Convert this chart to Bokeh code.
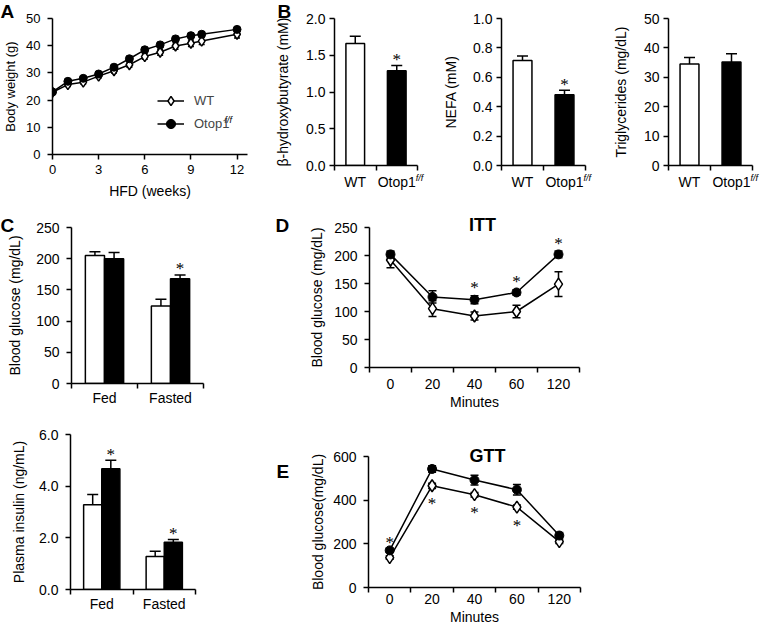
import numpy as np
from bokeh.plotting import figure
from bokeh.layouts import row, column
from bokeh.models import (ColumnDataSource, Whisker, TeeHead, FixedTicker, Range1d,
                          Label, LabelSet, Legend, LegendItem, NumeralTickFormatter)
from bokeh.embed import file_html
from bokeh.resources import INLINE

# ---------------- data ----------------
# A: body weight on HFD
weeks = [0, 1, 2, 3, 4, 5, 6, 7, 8, 9, 9.7, 12]
bw_wt = [22.9, 25.7, 26.6, 28.8, 30.8, 33.0, 36.0, 37.6, 39.9, 40.9, 41.7, 44.2]
bw_wt_err = [0.6, 0.7, 0.7, 0.7, 0.8, 0.9, 1.0, 1.1, 1.2, 1.2, 1.3, 1.4]
bw_ko = [23.0, 26.9, 28.0, 29.6, 32.1, 35.2, 38.5, 40.3, 42.5, 43.7, 44.2, 46.0]
bw_ko_err = [0.5, 0.6, 0.6, 0.7, 0.7, 0.8, 0.8, 0.9, 0.9, 0.9, 0.9, 0.8]
weeks_ticks = [0, 3, 6, 9, 12]
bw_ticks = [0, 10, 20, 30, 40, 50]

# B: serum metabolites
genotypes = ["WT", "Otop1"]
bhb = [1.66, 1.29]
bhb_err = [0.10, 0.07]
bhb_sig = [False, True]
bhb_ticks = [0.0, 0.5, 1.0, 1.5, 2.0]
nefa = [0.715, 0.482]
nefa_err = [0.03, 0.03]
nefa_sig = [False, True]
nefa_ticks = [0.0, 0.2, 0.4, 0.6, 0.8, 1.0]
tg = [34.5, 35.2]
tg_err = [2.2, 2.8]
tg_sig = [False, False]
tg_ticks = [0, 10, 20, 30, 40, 50]

# C: fed / fasted glucose and insulin
states = ["Fed", "Fasted"]
glc_wt = [205, 124]
glc_wt_err = [6, 11]
glc_ko = [200, 168]
glc_ko_err = [10, 6]
glc_sig = [False, True]
glc_ticks = [0, 50, 100, 150, 200, 250]
ins_wt = [3.28, 1.28]
ins_wt_err = [0.40, 0.20]
ins_ko = [4.67, 1.83]
ins_ko_err = [0.33, 0.11]
ins_sig = [True, True]
ins_ticks = [0.0, 2.0, 4.0, 6.0]

# D: ITT
minutes = ["0", "20", "40", "60", "120"]
itt_wt = [192, 105, 92, 100, 149]
itt_wt_err = [14, 14, 7, 11, 22]
itt_ko = [202, 126, 121, 134, 202]
itt_ko_err = [6, 11, 7, 5, 6]
itt_sig = [False, False, True, True, True]
itt_ticks = [0, 50, 100, 150, 200, 250]

# E: GTT
gtt_wt = [137, 466, 425, 368, 210]
gtt_wt_err = [8, 12, 10, 10, 8]
gtt_ko = [170, 543, 492, 448, 238]
gtt_ko_err = [10, 15, 22, 24, 14]
gtt_sig = ["above", "below", "below", "below", ""]
gtt_ticks = [0, 200, 400, 600]

FONT = "Liberation Sans"


def base_fig(w, h, xr, yr, bl, br, bt, bb, fs="14px", xs=3, ys=6):
    p = figure(width=w, height=h, x_range=Range1d(*xr), y_range=Range1d(*yr),
               output_backend="svg", toolbar_location=None,
               min_border_left=bl, min_border_right=br,
               min_border_top=bt, min_border_bottom=bb)
    p.frame_align = False
    p.outline_line_color = None
    p.xgrid.grid_line_color = None
    p.ygrid.grid_line_color = None
    for ax in (p.xaxis[0], p.yaxis[0]):
        ax.axis_line_width = 1.5
        ax.axis_line_color = "black"
        ax.major_tick_line_width = 1.5
        ax.major_tick_line_color = "black"
        ax.major_tick_out = 5
        ax.major_tick_in = 0
        ax.minor_tick_line_color = None
        ax.major_label_text_font = FONT
        ax.major_label_text_font_size = fs
        ax.major_label_text_color = "black"
        ax.axis_label_text_font = FONT
        ax.axis_label_text_font_size = fs
        ax.axis_label_text_font_style = "normal"
        ax.axis_label_text_color = "black"
    p.xaxis.major_label_standoff = xs
    p.yaxis.major_label_standoff = ys
    return p


def cat_xaxis(p, labels):
    n = len(labels)
    centers = [i + 0.5 for i in range(n)]
    ax = p.xaxis[0]
    ax.ticker = FixedTicker(ticks=centers, minor_ticks=list(range(n + 1)))
    ax.major_label_overrides = {c: l for c, l in zip(centers, labels)}
    ax.major_tick_line_color = None
    ax.minor_tick_line_color = "black"
    ax.minor_tick_line_width = 1.5
    ax.minor_tick_out = 5
    ax.minor_tick_in = 0


def side_text(p, txt, x, y, side="right", size="19px", style="bold",
              align="left", baseline="top"):
    p.add_layout(Label(x=x, y=y, x_units="canvas", y_units="canvas", text=txt,
                       text_font=FONT, text_font_size=size, text_font_style=style,
                       text_baseline=baseline, text_align=align, text_color="black"),
                 side)


def sup_tick(p, x, y, x_offset):
    p.add_layout(Label(x=x, y=y, x_units="data", y_units="canvas", x_offset=x_offset,
                       text="f/f", text_font=FONT, text_font_size="9px",
                       text_font_style="italic", text_baseline="top", text_align="left",
                       text_color="black"), "below")


def stars(p, xs, ys, offset):
    src = ColumnDataSource(dict(x=list(xs), y=list(ys), t=["*"] * len(xs)))
    p.add_layout(LabelSet(x="x", y="y", text="t", source=src, y_offset=offset,
                          text_font=FONT, text_font_size="17px", text_align="center",
                          text_baseline="middle", text_color="black"))


def bar_whisker(p, x, top, err):
    src = ColumnDataSource(dict(x=list(x), lo=list(top),
                                hi=[t + e for t, e in zip(top, err)]))
    p.add_layout(Whisker(source=src, base="x", lower="lo", upper="hi",
                         line_width=1.5, line_color="black", lower_head=None,
                         upper_head=TeeHead(size=11, line_width=1.5, line_color="black"),
                         level="overlay"))


def pt_whisker(p, x, y, err, size=8):
    src = ColumnDataSource(dict(x=list(x), lo=[a - e for a, e in zip(y, err)],
                                hi=[a + e for a, e in zip(y, err)]))
    p.add_layout(Whisker(source=src, base="x", lower="lo", upper="hi",
                         line_width=1.5, line_color="black",
                         lower_head=TeeHead(size=size, line_width=1.5, line_color="black"),
                         upper_head=TeeHead(size=size, line_width=1.5, line_color="black"),
                         level="underlay"))


# ---------------- A ----------------
pA = base_fig(272, 207, (0, 12.68), (0, 50), 47, 25, 18, 53, fs="13px", xs=5, ys=7)
pA.xaxis.ticker = FixedTicker(ticks=weeks_ticks)
pA.yaxis.ticker = FixedTicker(ticks=bw_ticks)
pA.xaxis.axis_label = "HFD (weeks)"
pA.xaxis.axis_label_text_font_size = "14px"
pA.xaxis.axis_label_standoff = 6
pA.yaxis.axis_label = "Body weight (g)"
pA.yaxis.axis_label_standoff = 5
pt_whisker(pA, weeks, bw_wt, bw_wt_err, 6)
pt_whisker(pA, weeks, bw_ko, bw_ko_err, 6)
lw = pA.line(weeks, bw_wt, line_color="black", line_width=1.5)
lk = pA.line(weeks, bw_ko, line_color="black", line_width=1.5)
sw = pA.scatter(weeks, bw_wt, marker="diamond", size=10, fill_color="white",
                line_color="black", line_width=1.5)
sk = pA.scatter(weeks, bw_ko, marker="circle", size=8, fill_color="black",
                line_color="black")
leg = Legend(items=[LegendItem(label="WT", renderers=[lw, sw]),
                    LegendItem(label="Otop1", renderers=[lk, sk])],
             location=(105, 19), padding=0, margin=0, spacing=0,
             glyph_width=27, glyph_height=23, label_standoff=10,
             border_line_color=None, background_fill_alpha=0,
             label_text_font=FONT, label_text_font_size="13px")
pA.add_layout(leg)
pA.add_layout(Label(x=224, y=114, x_units="canvas", y_units="canvas", text="f/f",
                    text_font=FONT, text_font_size="9px", text_font_style="italic",
                    text_baseline="top", text_color="black"))
side_text(pA, "A", 0, 0)

# ---------------- B ----------------
xg = [i + 0.5 for i in range(len(genotypes))]


def bpanel(w, bl, br, vals, errs, sig, ticks, ylab, fmt, lab_so):
    p = base_fig(w, 207, (0, 2), (ticks[0], ticks[-1]), bl, br, 18, 42, xs=3, ys=4)
    cat_xaxis(p, genotypes)
    p.yaxis.ticker = FixedTicker(ticks=ticks)
    if fmt:
        p.yaxis.formatter = NumeralTickFormatter(format=fmt)
    p.yaxis.axis_label = ylab
    p.yaxis.axis_label_standoff = lab_so
    p.vbar(x=xg, top=vals, width=0.45, bottom=0,
           fill_color=["white", "black"], line_color="black", line_width=1.5)
    bar_whisker(p, xg, vals, errs)
    sx = [x for x, s in zip(xg, sig) if s]
    sy = [v + e for v, e, s in zip(vals, errs, sig) if s]
    if sx:
        stars(p, sx, sy, 6)
    sup_tick(p, xg[1], 172, 19)
    return p


pB1 = bpanel(165, 60, 20, bhb, bhb_err, bhb_sig, bhb_ticks,
             "\u03b2-hydroxybutyrate (mM)", "0.0", 12)
pB2 = bpanel(167, 64, 19, nefa, nefa_err, nefa_sig, nefa_ticks, "NEFA (mM)", "0.0", 11)
pB3 = bpanel(161, 64, 13, tg, tg_err, tg_sig, tg_ticks, "Triglycerides (mg/dL)", None, 12)
side_text(pB1, "B", 5, 0)

# ---------------- C ----------------
xs_ = np.arange(len(states)) + 0.5
bw_c = 0.29


def cpanel(h, bl, br, bt, bb, wt, wte, ko, koe, sig, ticks, ylab, fmt, lab_so):
    p = base_fig(272, h, (0, 2), (ticks[0], ticks[-1]), bl, br, bt, bb, xs=1, ys=7)
    cat_xaxis(p, states)
    p.yaxis.ticker = FixedTicker(ticks=ticks)
    if fmt:
        p.yaxis.formatter = NumeralTickFormatter(format=fmt)
    p.yaxis.axis_label = ylab
    p.yaxis.axis_label_standoff = lab_so
    xw = xs_ - bw_c / 2
    xk = xs_ + bw_c / 2
    p.vbar(x=xw, top=wt, width=bw_c, fill_color="white", line_color="black", line_width=1.5)
    p.vbar(x=xk, top=ko, width=bw_c, fill_color="black", line_color="black", line_width=1.5)
    bar_whisker(p, xw, wt, wte)
    bar_whisker(p, xk, ko, koe)
    sx = [x for x, s in zip(xk, sig) if s]
    sy = [v + e for v, e, s in zip(ko, koe, sig) if s]
    if sx:
        stars(p, sx, sy, 6)
    return p


pC1 = cpanel(206, 71, 69, 20, 30, glc_wt, glc_wt_err, glc_ko, glc_ko_err, glc_sig,
             glc_ticks, "Blood glucose (mg/dL)", None, 10)
side_text(pC1, "C", 0, 7)
pC2 = cpanel(214, 70, 77, 21, 38, ins_wt, ins_wt_err, ins_ko, ins_ko_err, ins_sig,
             ins_ticks, "Plasma insulin (ng/mL)", "0.0", 9)

# ---------------- D ----------------
xm = np.arange(len(minutes)) + 0.5
pD = base_fig(493, 206, (0, 5), (itt_ticks[0], itt_ticks[-1]), 97, 186, 20, 46, xs=6, ys=7)
cat_xaxis(pD, minutes)
pD.yaxis.ticker = FixedTicker(ticks=itt_ticks)
pD.yaxis.axis_label = "Blood glucose (mg/dL)"
pD.yaxis.axis_label_standoff = 6
pD.xaxis.axis_label = "Minutes"
pD.xaxis.axis_label_standoff = 2
pt_whisker(pD, xm, itt_wt, itt_wt_err)
pt_whisker(pD, xm, itt_ko, itt_ko_err)
pD.line(xm, itt_wt, line_color="black", line_width=1.5)
pD.line(xm, itt_ko, line_color="black", line_width=1.5)
pD.scatter(xm, itt_wt, marker="diamond", size=12, fill_color="white",
           line_color="black", line_width=1.5)
pD.scatter(xm, itt_ko, marker="circle", size=9, fill_color="black", line_color="black")
stars(pD, [x for x, s in zip(xm, itt_sig) if s],
      [v + e for v, e, s in zip(itt_ko, itt_ko_err, itt_sig) if s], 8)
side_text(pD, "ITT", 210, 17, size="18px", align="center", baseline="middle")
side_text(pD, "D", 3, 7)

# ---------------- E ----------------
pE = base_fig(493, 214, (0, 5), (gtt_ticks[0], gtt_ticks[-1]), 96, 185, 43, 40, xs=1, ys=7)
cat_xaxis(pE, minutes)
pE.yaxis.ticker = FixedTicker(ticks=gtt_ticks)
pE.yaxis.axis_label = "Blood glucose(mg/dL)"
pE.yaxis.axis_label_standoff = 4
pE.xaxis.axis_label = "Minutes"
pE.xaxis.axis_label_standoff = 2
pt_whisker(pE, xm, gtt_wt, gtt_wt_err)
pt_whisker(pE, xm, gtt_ko, gtt_ko_err)
pE.line(xm, gtt_wt, line_color="black", line_width=1.5)
pE.line(xm, gtt_ko, line_color="black", line_width=1.5)
pE.scatter(xm, gtt_wt, marker="diamond", size=12, fill_color="white",
           line_color="black", line_width=1.5)
pE.scatter(xm, gtt_ko, marker="circle", size=9, fill_color="black", line_color="black")
stars(pE, [x for x, s in zip(xm, gtt_sig) if s == "above"],
      [v + e for v, e, s in zip(gtt_ko, gtt_ko_err, gtt_sig) if s == "above"], 6)
stars(pE, [x for x, s in zip(xm, gtt_sig) if s == "below"],
      [v for v, s in zip(gtt_wt, gtt_sig) if s == "below"], -18)
side_text(pE, "GTT", 215, 42, size="18px", align="center", baseline="middle")
side_text(pE, "E", 4, 47)

layout = column(row(pA, pB1, pB2, pB3), row(pC1, pD), row(pC2, pE))
open("out.html", "w").write(file_html(layout, INLINE))
